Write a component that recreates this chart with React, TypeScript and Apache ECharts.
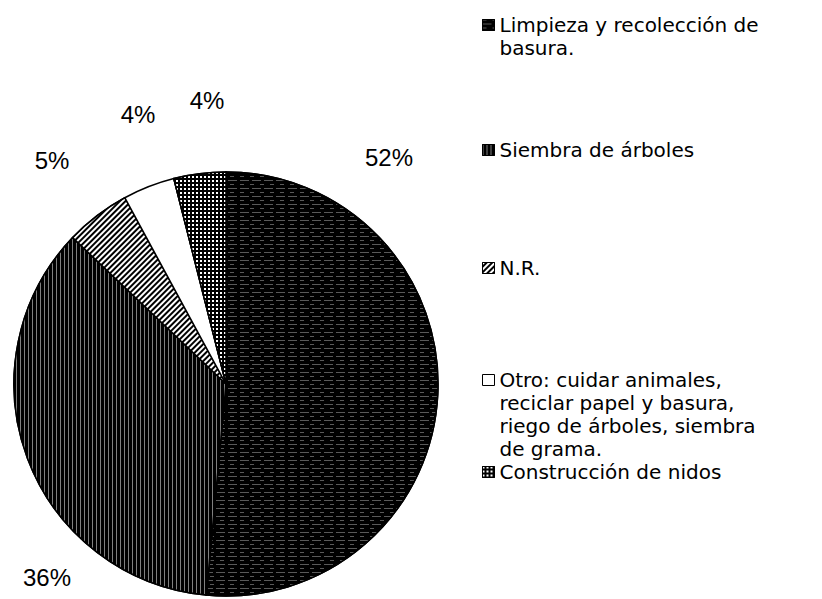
import React, { useEffect, useRef } from "react";
import * as echarts from "echarts";

const categories: string[] = [
  "Limpieza y recolección de\nbasura.",
  "Siembra de árboles",
  "N.R.",
  "Otro: cuidar animales,\nreciclar papel y basura,\nriego de árboles, siembra\nde grama.",
  "Construcción de nidos",
];
const values: number[] = [52, 36, 5, 4, 4];

// label anchor points (layout, px)
const labelPos: [number, number][] = [
  [389, 157],
  [47, 577],
  [52, 160],
  [138, 114],
  [207, 100],
];
// legend first-line centers (layout, px)
const legendLineY: number[] = [25, 150, 268, 380, 472];

const fills = ["#000", "#000", "#000", "#fff", "#000"];
const decals: any[] = [
  {
    symbol: "rect",
    symbolSize: 1,
    color: "rgba(255,255,255,0.35)",
    dashArrayX: [[9, 3], [4, 6]],
    dashArrayY: [1, 3],
    rotation: 0,
  },
  {
    symbol: "rect",
    symbolSize: 1,
    color: "rgba(255,255,255,0.5)",
    dashArrayX: [1, 3],
    dashArrayY: [1, 0],
    rotation: 0,
  },
  {
    symbol: "rect",
    symbolSize: 1,
    color: "#fff",
    dashArrayX: [1, 0],
    dashArrayY: [1.5, 1.5],
    rotation: -Math.PI / 4,
  },
  "none",
  {
    symbol: "rect",
    symbolSize: 1,
    color: "#fff",
    dashArrayX: [2, 2],
    dashArrayY: [2, 2],
    rotation: 0,
  },
];

const LINE_H = 23;

export default function App() {
  const ref = useRef<HTMLDivElement>(null);
  useEffect(() => {
    document.body.style.margin = "0";
    if (!ref.current) return;
    const chart = echarts.init(ref.current, undefined, { renderer: "svg" });
    const legends = categories.map((name, i) => {
      const n = name.split("\n").length;
      return {
        data: [name],
        left: 482,
        top: legendLineY[i] - (2 * n - 1) * (LINE_H / 2),
        orient: "vertical",
        padding: 0,
        itemWidth: 12,
        itemHeight: 11,
        itemGap: 0,
        selectedMode: false,
        icon: "rect",
        itemStyle: { borderColor: "#000", borderWidth: 1 },
        formatter: (nm: string) => "\n".repeat(n - 1) + nm,
        textStyle: {
          fontFamily: "DejaVu Sans",
          fontSize: 20,
          lineHeight: LINE_H,
          color: "#000",
        },
      };
    });
    chart.setOption({
      animation: false,
      backgroundColor: "#fff",
      legend: legends,
      series: [
        {
          type: "pie",
          center: [226, 384],
          radius: 212,
          startAngle: 90,
          clockwise: true,
          avoidLabelOverlap: false,
          silent: true,
          itemStyle: { borderColor: "#000", borderWidth: 1.5 },
          label: {
            show: true,
            formatter: (p: any) => p.value + "%",
            fontFamily: "Liberation Sans",
            fontSize: 24,
            color: "#000",
          },
          labelLine: { show: false },
          labelLayout: (params: any) => ({
            x: labelPos[params.dataIndex][0],
            y: labelPos[params.dataIndex][1],
            align: "center",
            verticalAlign: "middle",
          }),
          emphasis: { disabled: true },
          data: categories.map((name, i) => ({
            name,
            value: values[i],
            itemStyle: { color: fills[i], decal: decals[i] },
          })),
        },
      ],
    });
    return () => chart.dispose();
  }, []);
  return <div ref={ref} style={{ width: 822, height: 599 }} />;
}
